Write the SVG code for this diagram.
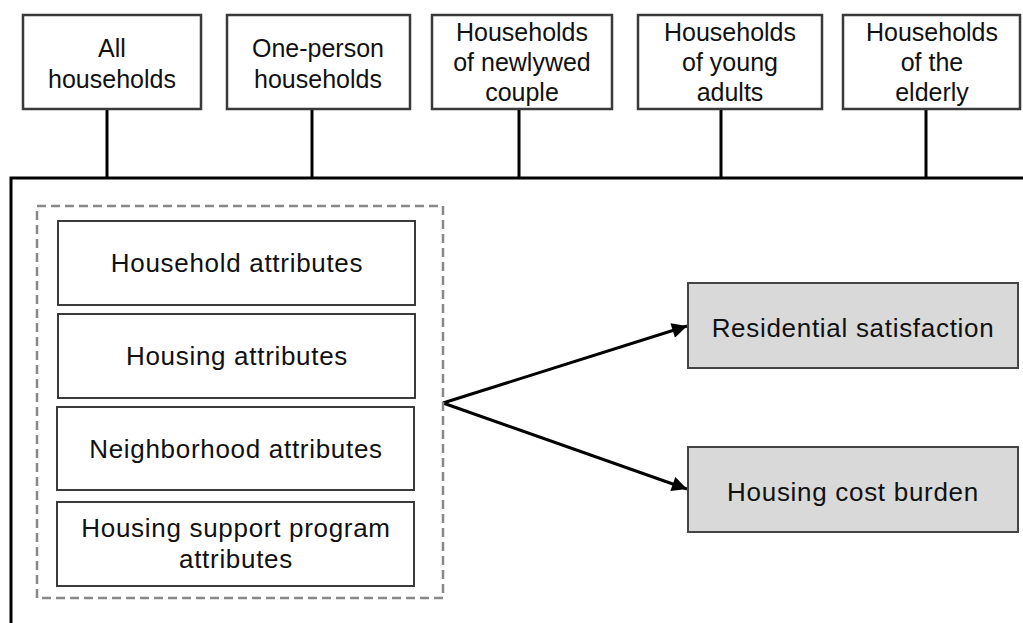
<svg xmlns="http://www.w3.org/2000/svg" width="1023" height="623" viewBox="0 0 1023 623">
<style>
.top{fill:#fff;stroke:#3a3a3a;stroke-width:2.5}
.in{fill:#fff;stroke:#3a3a3a;stroke-width:2}
.out{fill:#d9d9d9;stroke:#444;stroke-width:2}
.dash{fill:none;stroke:#888;stroke-width:2.5;stroke-dasharray:9 5}
.ln{stroke:#000;stroke-width:3;fill:none}
.t1{font-family:"Liberation Sans",Arial,sans-serif;font-size:25px;fill:#111;text-anchor:middle}
.t2{font-family:"Liberation Sans",Arial,sans-serif;font-size:26px;letter-spacing:0.7px;fill:#111;text-anchor:middle}
</style>
<defs>
<marker id="ah" viewBox="0 0 10 10" refX="10" refY="5" markerWidth="6" markerHeight="5" markerUnits="strokeWidth" orient="auto">
<path d="M0,0 L10,5 L0,10 z" fill="#000"/>
</marker>
</defs>
<g id="connectors">
<line class="ln" x1="107" y1="109" x2="107" y2="178"/>
<line class="ln" x1="312" y1="109" x2="312" y2="178"/>
<line class="ln" x1="519" y1="109" x2="519" y2="178"/>
<line class="ln" x1="721" y1="109" x2="721" y2="178"/>
<line class="ln" x1="926" y1="109" x2="926" y2="178"/>
<polyline class="ln" points="11,623 11,178 1023,178"/>
<line class="ln" x1="443" y1="403" x2="687" y2="326" marker-end="url(#ah)"/>
<line class="ln" x1="443" y1="403" x2="687" y2="489" marker-end="url(#ah)"/>
</g>
<g id="n-all">
<rect class="top" x="23" y="15" width="178" height="94"/>
<text class="t1" x="112" y="57">All</text>
<text class="t1" x="112" y="88">households</text>
</g>
<g id="n-one">
<rect class="top" x="227" y="15" width="183" height="94"/>
<text class="t1" x="318" y="57">One-person</text>
<text class="t1" x="318" y="88">households</text>
</g>
<g id="n-newlywed">
<rect class="top" x="432" y="15" width="180" height="94"/>
<text class="t1" x="522" y="41">Households</text>
<text class="t1" x="522" y="71">of newlywed</text>
<text class="t1" x="522" y="101">couple</text>
</g>
<g id="n-young">
<rect class="top" x="638" y="15" width="184" height="94"/>
<text class="t1" x="730" y="41">Households</text>
<text class="t1" x="730" y="71">of young</text>
<text class="t1" x="730" y="101">adults</text>
</g>
<g id="n-elderly">
<rect class="top" x="843" y="15" width="177" height="94"/>
<text class="t1" x="932" y="41">Households</text>
<text class="t1" x="932" y="71">of the</text>
<text class="t1" x="932" y="101">elderly</text>
</g>
<g id="n-group">
<rect class="dash" x="37" y="206" width="406" height="392"/>
</g>
<g id="n-household">
<rect class="in" x="58" y="221" width="357" height="84"/>
<text class="t2" x="237" y="272">Household attributes</text>
</g>
<g id="n-housing">
<rect class="in" x="58" y="314" width="357" height="84"/>
<text class="t2" x="237" y="365">Housing attributes</text>
</g>
<g id="n-neighborhood">
<rect class="in" x="57" y="407" width="357" height="83"/>
<text class="t2" x="236" y="458">Neighborhood attributes</text>
</g>
<g id="n-support">
<rect class="in" x="57" y="502" width="357" height="84"/>
<text class="t2" x="236" y="537">Housing support program</text>
<text class="t2" x="236" y="568">attributes</text>
</g>
<g id="n-satisfaction">
<rect class="out" x="688" y="283" width="330" height="85"/>
<text class="t2" x="853" y="337">Residential satisfaction</text>
</g>
<g id="n-cost">
<rect class="out" x="688" y="447" width="330" height="85"/>
<text class="t2" x="853" y="501">Housing cost burden</text>
</g>
</svg>
